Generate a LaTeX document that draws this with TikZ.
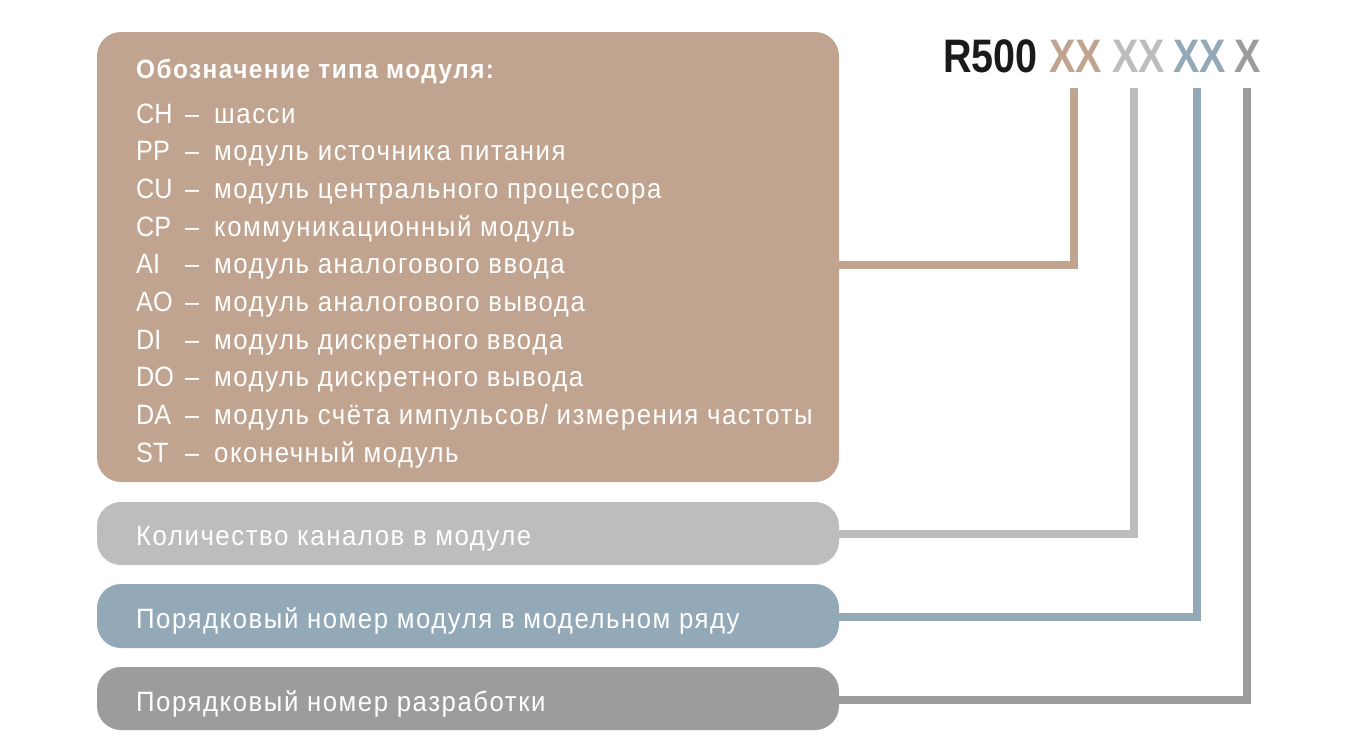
\documentclass[tikz,border=0pt]{standalone}
\usepackage{fontspec}
\setmainfont{Liberation Sans}[FakeStretch=0.92,LetterSpace=5.5]
\newfontfamily\hdrfont{Liberation Sans}[FakeStretch=0.84]
\newfontfamily\codefont{Liberation Sans}[FakeStretch=0.9]
\definecolor{cbrown}{HTML}{C0A48F}
\definecolor{clgray}{HTML}{BDBDBE}
\definecolor{cblue}{HTML}{94A9B8}
\definecolor{cdgray}{HTML}{9C9C9C}
\definecolor{cblack}{HTML}{1A1A1A}
\begin{document}
\begin{tikzpicture}[x=1pt,y=-1pt,
  box/.style={rounded corners=24pt},
  conn/.style={line width=8pt},
  bodytxt/.style={anchor=base west,inner sep=0pt,text=white,font=\fontsize{28}{30}\selectfont},
  codetxt/.style={anchor=base west,inner sep=0pt,text=white,font=\codefont\fontsize{28}{30}\selectfont},
  titletxt/.style={anchor=base west,inner sep=0pt,text=white,font=\fontsize{26.5}{30}\selectfont\bfseries},
  hdr/.style={anchor=base west,inner sep=0pt,font=\hdrfont\fontsize{47}{50}\selectfont\bfseries}]
\useasboundingbox (0,0) rectangle (1363,748);
% boxes
\fill[cbrown,box] (97,32) rectangle (839,482);
\fill[clgray,box] (97,502) rectangle (839,565);
\fill[cblue,box] (97,584) rectangle (839,648);
\fill[cdgray,box] (97,667) rectangle (839,730);
\coordinate (b1) at (839,265);
\coordinate (b2) at (839,534);
\coordinate (b3) at (839,617);
\coordinate (b4) at (839,700);
% header
\node[hdr,text=cblack] (r500) at (943,72) {R500};
\node[hdr,text=cbrown] (x1) at (1049,72) {XX};
\node[hdr,text=clgray] (x2) at (1112,72) {XX};
\node[hdr,text=cblue] (x3) at (1173,72) {XX};
\node[hdr,text=cdgray] (x4) at (1234,72) {X};
\coordinate (t1) at (1074,88);
\coordinate (t2) at (1134,88);
\coordinate (t3) at (1197,88);
\coordinate (t4) at (1247,88);
% connectors
\draw[conn,cbrown] (b1) -| (t1);
\draw[conn,clgray] (b2) -| (t2);
\draw[conn,cblue] (b3) -| (t3);
\draw[conn,cdgray] (b4) -| (t4);
% title
\node[titletxt] (title) at (136,78) {Обозначение типа модуля:};
% list
\foreach \c/\t [count=\i] in {CH/{шасси}, PP/{модуль источника питания}, CU/{модуль центрального процессора}, CP/{коммуникационный модуль}, AI/{модуль аналогового ввода}, AO/{модуль аналогового вывода}, DI/{модуль дискретного ввода}, DO/{модуль дискретного вывода}, DA/{модуль счёта импульсов/ измерения частоты}, ST/{оконечный модуль}}{
  \pgfmathsetmacro{\yy}{123+37.7*(\i-1)}
  \node[codetxt] (c\i) at (136,\yy) {\c};
  \node[codetxt] (d\i) at (185,\yy) {–};
  \node[bodytxt] (l\i) at (214,\yy) {\t};
}
\node[bodytxt] (g2) at (136,545) {Количество каналов в модуле};
\node[bodytxt] (g3) at (136,628) {Порядковый номер модуля в модельном ряду};
\node[bodytxt] (g4) at (136,711) {Порядковый номер разработки};
\end{tikzpicture}
\end{document}
